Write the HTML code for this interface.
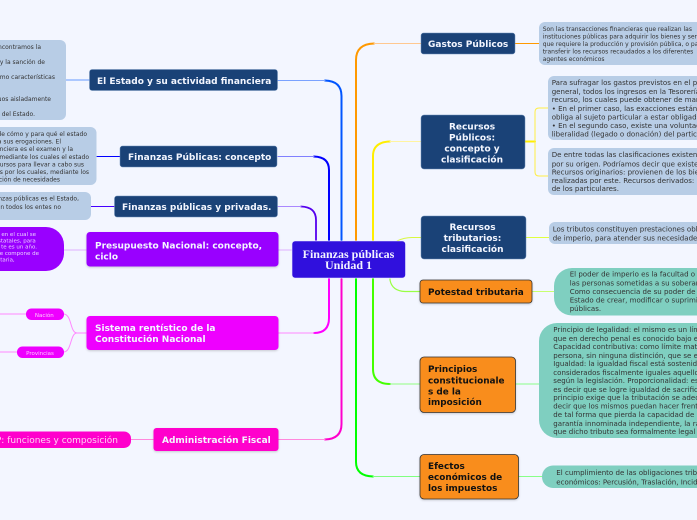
<!DOCTYPE html>
<html><head><meta charset="utf-8"><style>
html,body{margin:0;padding:0;background:#f3f6ff;width:697px;height:520px;overflow:hidden}
svg{display:block}
text{font-family:"DejaVu Sans",sans-serif}
.t{font-weight:bold;font-size:9px;fill:#f3f6ff}
.k{font-weight:bold;font-size:8.9px;fill:#111}
.b6{font-size:6px;fill:#333}
.b7{font-size:7.05px;fill:#333}
.e{text-anchor:end}
.m{text-anchor:middle}
.p{font-size:5.5px;fill:#ecd0ff;text-anchor:end}
.n{font-size:5.5px;fill:#ffc8ff;text-anchor:middle}
</style></head><body>
<svg width="697" height="520" viewBox="0 0 697 520" xmlns="http://www.w3.org/2000/svg">
<defs><filter id="s" x="-10%" y="-20%" width="120%" height="140%"><feDropShadow dx="0" dy="1" stdDeviation="1" flood-color="#000" flood-opacity=".18"/></filter></defs>
<rect width="697" height="520" fill="#f3f6ff"/>
<g fill="none" stroke-linecap="round">
<path d="M341.5 240V96Q341.5 81 325 80.5" stroke="#0055ff" stroke-width="2"/><path d="M325 80.5H278" stroke="#7aa2ff" stroke-width="1"/>
<path d="M329 240V170Q329 157 314 156.5" stroke="#0000ff" stroke-width="2"/><path d="M314 156.5H278" stroke="#8080ff" stroke-width="1"/>
<path d="M316 240V220Q316 207 301 206.5" stroke="#5500ee" stroke-width="1.8"/><path d="M301 206.5H278" stroke="#aa88ff" stroke-width="1"/>
<path d="M292 250H278" stroke="#dfb0ff" stroke-width="1"/>
<path d="M356 240V60Q356 44 374 43.5" stroke="#ff9900" stroke-width="2"/><path d="M374 43.5H421" stroke="#ffc890" stroke-width="1"/>
<path d="M373 240V156Q373 142 390 141.5" stroke="#ffee00" stroke-width="2"/><path d="M390 141.5H421" stroke="#fff4a0" stroke-width="1"/>
<path d="M397 241Q404 237.5 412 237.5H421" stroke="#d8f840" stroke-width="1"/>
<path d="M329 279V318Q329 333 314 333" stroke="#ff00ff" stroke-width="2"/><path d="M314 333H278" stroke="#ff88ff" stroke-width="1"/>
<path d="M341.5 279V424Q341.5 439 325 439.5" stroke="#ff00cc" stroke-width="2"/><path d="M325 439.5H278" stroke="#ff88dd" stroke-width="1"/>
<path d="M356 279V462Q356 476 373 476.5" stroke="#00ff00" stroke-width="2"/><path d="M373 476.5H420" stroke="#80ff80" stroke-width="1"/>
<path d="M373 279V369Q373 384 390 384" stroke="#44ff00" stroke-width="2"/><path d="M390 384H420" stroke="#90ff80" stroke-width="1"/>
<path d="M390 279V280Q392 291 405 291.5H420" stroke="#99ff44" stroke-width="1.2"/>
<path d="M66 80H89" stroke="#6699ff" stroke-width="1"/>
<path d="M97 156.5H120" stroke="#0000ff" stroke-width="1"/>
<path d="M91 206.5H114" stroke="#4400ff" stroke-width="1"/>
<path d="M64 250H86" stroke="#dfb0ff" stroke-width="1"/>
<path d="M86 333H77C70 333 72 315 64 314" stroke="#ff88ff" stroke-width="1"/>
<path d="M77 333C70 333 72 351 64 352" stroke="#ff88ff" stroke-width="1"/>
<path d="M0 314H26M0 352H17" stroke="#ff88ff" stroke-width="1"/>
<path d="M131 439.5H153" stroke="#ff88dd" stroke-width="1"/>
<path d="M515 43.5H539" stroke="#ff9900" stroke-width="1"/>
<path d="M525 141.5H535" stroke="#ffee00" stroke-width="2"/>
<path d="M548 108H539Q535 108 535 112V172Q535 176 539 176H548" stroke="#ffee44" stroke-width="1"/>
<path d="M526 237.5H549" stroke="#e0ff40" stroke-width="1"/>
<path d="M532 291.5H554" stroke="#c8ff70" stroke-width="1"/>
<path d="M516 384H539" stroke="#88ff88" stroke-width="1"/>
<path d="M519 476.5H542" stroke="#88ff88" stroke-width="1"/>
</g>
<g fill="#b8cde6">
<rect x="-20" y="40" width="86" height="80" rx="6"/>
<rect x="-20" y="127" width="116.500" height="58" rx="6"/>
<rect x="-20" y="192" width="111" height="28" rx="6"/>
<rect x="539" y="22" width="200" height="43" rx="6"/>
<rect x="548" y="76" width="200" height="64" rx="6"/>
<rect x="548" y="148" width="200" height="47" rx="6"/>
<rect x="549" y="222" width="200" height="22" rx="6"/>
</g>
<g fill="#7fcfc0">
<rect x="554" y="268" width="200" height="47.500" rx="18"/>
<rect x="539" y="323" width="220" height="115" rx="18"/>
<rect x="542" y="465.500" width="200" height="22.500" rx="11"/>
</g>
<rect x="-30" y="227" width="94" height="44" rx="18" fill="#9900ff"/>
<rect x="26" y="308.500" width="38" height="11.500" rx="5.500" fill="#ee00ff"/>
<rect x="17" y="346.500" width="47" height="11.500" rx="5.500" fill="#ee00ff"/>
<rect x="-30" y="431.500" width="161" height="16.500" rx="7" fill="#ff00cc"/>
<g fill="#1a4277" stroke="#6b8db8" stroke-width=".5">
<rect x="89.500" y="69.500" width="188" height="21" rx="2.500"/>
<rect x="120" y="146" width="157" height="21" rx="2.500"/>
<rect x="114.500" y="196" width="163" height="21" rx="2.500"/>
<rect x="421" y="33" width="94" height="21" rx="2.500"/>
<rect x="421" y="115" width="104" height="54" rx="3"/>
<rect x="421" y="216" width="105" height="43" rx="3"/>
</g>
<g filter="url(#s)">
<rect x="86.500" y="232" width="192" height="34.500" rx="3.500" fill="#9900ff"/>
<rect x="86.500" y="316" width="192" height="34" rx="3.500" fill="#ee00ff"/>
<rect x="153.500" y="428" width="125" height="23" rx="3" fill="#ff00cc"/>
<g fill="#f98d1d" stroke="#333" stroke-width=".8">
<rect x="420" y="280" width="112" height="23" rx="3"/>
<rect x="420" y="357" width="95.500" height="55.500" rx="4"/>
<rect x="420" y="454.500" width="98.500" height="44.500" rx="4"/>
</g>
</g>
<rect x="292" y="241" width="113.500" height="37" rx="3" fill="#3010dd" stroke="#e8e8ff" stroke-width=".6"/>
<g font-weight="bold" font-size="12" fill="#f3f3ff" text-anchor="middle">
<text x="348.500" y="258" style="font-family:'Liberation Serif',serif">Finanzas públicas</text>
<text x="348.500" y="269" style="font-family:'Liberation Serif',serif">Unidad 1</text>
</g>
<text class="t" x="97" y="84">El Estado y su actividad financiera</text>
<text class="t" x="128" y="160">Finanzas Públicas: concepto</text>
<text class="t" x="122" y="210">Finanzas públicas y privadas.</text>
<text class="t" x="95" y="248.500">Presupuesto Nacional: concepto,</text>
<text class="t" x="95" y="259.500">ciclo</text>
<text class="t" x="95" y="331">Sistema rentístico de la</text>
<text class="t" x="95" y="342">Constitución Nacional</text>
<text class="t" x="162" y="443">Administración Fiscal</text>
<text class="t" x="428" y="47">Gastos Públicos</text>
<g><text class="t m" x="472" y="129.500">Recursos</text><text class="t m" x="472" y="140.500">Públicos:</text><text class="t m" x="472" y="151.500">concepto y</text><text class="t m" x="472" y="162.500">clasificación</text>
<text class="t m" x="472.500" y="230">Recursos</text><text class="t m" x="472.500" y="241">tributarios:</text><text class="t m" x="472.500" y="252">clasificación</text></g>
<text class="k" x="428" y="295">Potestad tributaria</text>
<text class="k" x="428" y="372">Principios</text><text class="k" x="428" y="383.500">constitucionale</text><text class="k" x="428" y="394.500">s de la</text><text class="k" x="428" y="405">imposición</text>
<text class="k" x="428" y="469">Efectos</text><text class="k" x="428" y="480">económicos de</text><text class="k" x="428" y="491">los impuestos</text>
<g>
<text class="b6 e" x="41" y="49">encontramos la</text>
<text class="b6 e" x="45" y="64">y la sanción de</text>
<text class="b6 e" x="55" y="79">como características</text>
<text class="b6 e" x="51" y="101">duos aisladamente</text>
<text class="b6 e" x="35" y="116">del Estado.</text>
<text class="b6 e" x="87" y="136">de cómo y para qué el estado</text>
<text class="b6 e" x="61" y="143.500">a sus erogaciones. El</text>
<text class="b6 e" x="73" y="151">anciera es el examen y la</text>
<text class="b6 e" x="89" y="159">mediante los cuales el estado</text>
<text class="b6 e" x="84" y="166.500">recursos para llevar a cabo sus</text>
<text class="b6 e" x="89" y="174">os por los cuales, mediante los</text>
<text class="b6 e" x="60" y="181.500">ación de necesidades</text>
<text class="b6 e" x="79" y="200.700">anzas públicas es el Estado,</text>
<text class="b6 e" x="61" y="209">en todos los entes no</text>
</g>
<text class="p" x="36" y="236">en el cual se</text>
<text class="p" x="35.700" y="242.300">estatales, para</text>
<text class="p" x="37" y="248.500">te es un año.</text>
<text class="p" x="39" y="255">se compone de</text>
<text class="p" x="14.700" y="261.300">taria,</text>
<text class="n" x="44.300" y="317">Nación</text>
<text class="n" x="40" y="355">Provincias</text>
<text x="118" y="442.800" text-anchor="end" font-size="9" fill="#ffd0f4">SP: funciones y composición</text>
<g>
<text class="b6" x="542.700" y="31">Son las transacciones financieras que realizan las</text>
<text class="b6" x="542.700" y="38.500">instituciones públicas para adquirir los bienes y servicios</text>
<text class="b6" x="542.700" y="46">que requiere la producción y provisión pública, o para</text>
<text class="b6" x="542.700" y="53.500">transferir los recursos recaudados a los diferentes</text>
<text class="b6" x="542.700" y="61">agentes económicos</text>
</g>
<g>
<text class="b7" x="551.700" y="85">Para sufragar los gastos previstos en el presupuesto</text>
<text class="b7" x="551.700" y="94">general, todos los ingresos en la Tesorería</text>
<text class="b7" x="551.700" y="102">recurso, los cuales puede obtener de manera</text>
<text class="b7" x="551.700" y="111">• En el primer caso, las exacciones están</text>
<text class="b7" x="551.700" y="119.500">obliga al sujeto particular a estar obligado</text>
<text class="b7" x="551.700" y="128">• En el segundo caso, existe una voluntad</text>
<text class="b7" x="551.700" y="136.500">liberalidad (legado o donación) del particular</text>
<text class="b7" x="551.700" y="157">De entre todas las clasificaciones existentes</text>
<text class="b7" x="551.700" y="166.500">por su origen. Podríamos decir que existen</text>
<text class="b7" x="551.700" y="174.500">Recursos originarios: provienen de los bienes</text>
<text class="b7" x="551.700" y="183">realizadas por este. Recursos derivados: los</text>
<text class="b7" x="551.700" y="191">de los particulares.</text>
<text class="b7" x="552.700" y="231.500">Los tributos constituyen prestaciones obligatorias</text>
<text class="b7" x="552.700" y="240.500">de imperio, para atender sus necesidades</text>
<text class="b7" x="569.700" y="276.500">El poder de imperio es la facultad o</text>
<text class="b7" x="569.700" y="285.500">las personas sometidas a su soberanía</text>
<text class="b7" x="569.700" y="294">Como consecuencia de su poder de</text>
<text class="b7" x="569.700" y="302.500">Estado de crear, modificar o suprimir</text>
<text class="b7" x="569.700" y="311">públicas.</text>
<text class="b7" x="553.300" y="332">Principio de legalidad: el mismo es un límite</text>
<text class="b7" x="553.300" y="341">que en derecho penal es conocido bajo el</text>
<text class="b7" x="553.300" y="349">Capacidad contributiva: como límite material</text>
<text class="b7" x="553.300" y="358">persona, sin ninguna distinción, que se en</text>
<text class="b7" x="553.300" y="366">Igualdad: la igualdad fiscal está sostenida</text>
<text class="b7" x="553.300" y="375">considerados fiscalmente iguales aquellos</text>
<text class="b7" x="553.300" y="383">según la legislación. Proporcionalidad: es</text>
<text class="b7" x="553.300" y="392">es decir que se logre igualdad de sacrificio</text>
<text class="b7" x="553.300" y="400">principio exige que la tributación se adecue</text>
<text class="b7" x="553.300" y="408.500">decir que los mismos puedan hacer frente</text>
<text class="b7" x="553.300" y="417">de tal forma que pierda la capacidad de su</text>
<text class="b7" x="553.300" y="426">garantía innominada independiente, la razón</text>
<text class="b7" x="553.300" y="434">que dicho tributo sea formalmente legal y</text>
<text class="b7" x="556.300" y="475">El cumplimiento de las obligaciones tributarias</text>
<text class="b7" x="556.300" y="484.500">económicos: Percusión, Traslación, Incidencia</text>
</g>
</svg>
</body></html>
